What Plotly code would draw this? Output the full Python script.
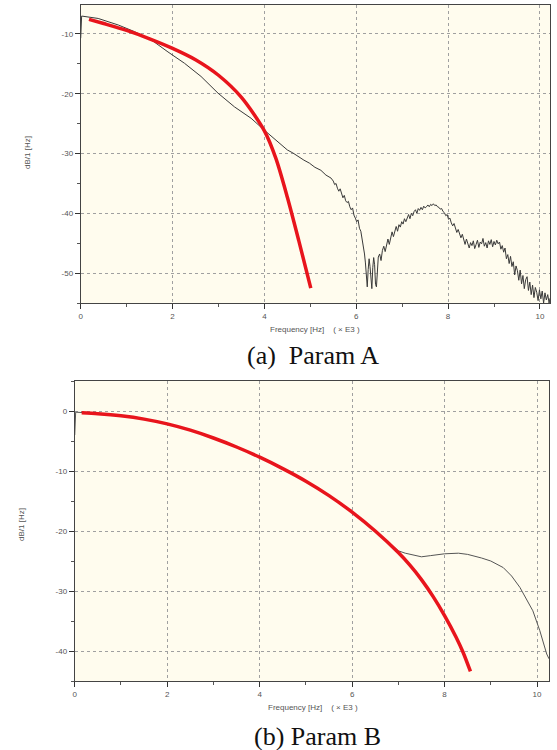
import plotly.graph_objects as go

W, H = 557, 750

# ---------------- Data: panel (a) ----------------
a_meas_f = [0.00, 0.02, 0.38, 0.82, 1.17, 1.54, 1.90, 2.26, 2.62, 2.99, 3.35, 3.71, 4.00, 4.20,
            4.35, 4.50, 4.62, 4.75, 4.86, 4.98, 5.10, 5.23, 5.34, 5.45,
            5.50, 5.53, 5.56, 5.59, 5.62, 5.65, 5.68, 5.71, 5.74, 5.77, 5.80, 5.83, 5.86, 5.89,
            5.92, 5.95, 5.98, 6.01, 6.04, 6.07, 6.10, 6.13, 6.16, 6.18, 6.20, 6.22, 6.24, 6.26,
            6.28, 6.30, 6.32, 6.34, 6.36, 6.38, 6.40, 6.42, 6.44, 6.46, 6.48, 6.51, 6.54, 6.57,
            6.60, 6.63, 6.66, 6.69, 6.72, 6.75, 6.78, 6.81, 6.84, 6.87, 6.90, 6.93, 6.96, 6.99,
            7.02, 7.05, 7.08, 7.11, 7.14, 7.17, 7.20, 7.23, 7.26, 7.29, 7.32, 7.35, 7.38, 7.41,
            7.44, 7.47, 7.50, 7.53, 7.56, 7.59, 7.62, 7.65, 7.68, 7.71, 7.74, 7.77, 7.80, 7.83,
            7.86, 7.89, 7.92, 7.95, 7.98, 8.01, 8.04, 8.07, 8.10, 8.13, 8.16, 8.19, 8.22, 8.25,
            8.28, 8.31, 8.34, 8.37, 8.40, 8.43, 8.46, 8.49, 8.52, 8.55, 8.58, 8.61, 8.64, 8.67,
            8.70, 8.73, 8.76, 8.79, 8.82, 8.85, 8.88, 8.91, 8.94, 8.97, 9.00, 9.03, 9.06, 9.09,
            9.12, 9.15, 9.18, 9.21, 9.24, 9.27, 9.30, 9.33, 9.36, 9.39, 9.42, 9.45, 9.48, 9.51,
            9.54, 9.57, 9.60, 9.63, 9.66, 9.69, 9.72, 9.75, 9.78, 9.81, 9.84, 9.87, 9.90, 9.93,
            9.96, 9.99, 10.02, 10.05, 10.08, 10.11, 10.14, 10.17, 10.20, 10.22]
a_meas_db = [-10.7, -7.0, -7.4, -8.5, -9.6, -11.0, -13.0, -14.9, -17.1, -19.9, -22.2, -24.1, -26.1, -27.4,
             -28.4, -29.4, -29.9, -30.6, -31.1, -31.6, -32.3, -32.8, -33.6, -34.1,
             -34.6, -35.2, -35.0, -35.8, -36.3, -35.9, -36.8, -37.4, -37.0, -37.9, -38.2, -38.0, -38.9, -39.4,
             -39.1, -40.3, -40.8, -41.4, -41.1, -42.5, -43.0, -44.2, -45.6, -46.8, -48.3, -50.5, -52.3, -49.4,
             -47.6, -48.9, -51.8, -52.6, -49.1, -47.4, -48.6, -51.9, -52.3, -49.0, -47.3, -46.8, -47.9, -46.2,
             -45.5, -46.4, -45.1, -44.3, -45.2, -44.0, -43.1, -43.9, -42.8, -42.2, -43.0, -41.9, -42.3, -41.4,
             -41.8, -40.9, -41.4, -40.6, -40.2, -40.9, -40.0, -40.4, -39.7, -39.4, -40.0, -39.2, -39.5, -39.0,
             -39.4, -38.8, -39.1, -38.9, -38.6, -38.9, -38.5, -38.7, -38.4, -38.7, -38.6, -38.9, -39.0, -39.3,
             -39.2, -39.7, -39.9, -40.4, -40.2, -41.0, -40.8, -41.6, -42.1, -41.7, -42.6, -43.2, -42.7, -43.6,
             -44.1, -43.5, -44.6, -45.2, -44.3, -45.0, -45.8, -44.9, -45.4, -44.6, -45.9, -45.2, -44.5, -45.7,
             -44.8, -45.1, -44.2, -45.5, -44.9, -45.8, -44.6, -45.2, -44.4, -45.6, -44.7, -45.3, -44.5, -45.1,
             -44.8, -46.0, -45.4, -46.5, -45.8, -47.6, -46.9, -48.4, -47.2, -48.9, -48.1, -50.3, -48.8, -49.6,
             -51.2, -49.5, -51.8, -50.4, -52.6, -51.1, -50.6, -52.9, -51.5, -53.6, -52.0, -54.1, -52.4, -53.2,
             -54.6, -52.8, -54.3, -53.0, -55.0, -53.3, -54.5, -53.6, -55.0, -54.2]

a_model_f = [0.18, 0.50, 1.00, 1.50, 2.00, 2.50, 3.00, 3.50, 4.00, 4.25, 4.50, 4.75, 5.01]
a_model_db = [-7.55, -8.25, -9.4, -10.8, -12.4, -14.3, -16.9, -20.6, -26.2, -30.8, -37.3, -44.6, -52.5]

# ---------------- Data: panel (b) ----------------
b_meas_f = [0.00, 0.02, 0.50, 1.00, 1.50, 2.00, 2.50, 3.00, 3.50, 4.00, 4.50, 5.00, 5.50, 6.00, 6.50, 6.80,
            7.00, 7.15, 7.30, 7.50, 7.70, 8.00, 8.30, 8.50, 8.80, 9.00, 9.27, 9.45, 9.63, 9.80, 9.91,
            10.06, 10.21, 10.26]
b_meas_db = [-4.0, -0.2, -0.4, -0.75, -1.3, -2.1, -3.15, -4.45, -5.95, -7.65, -9.55, -11.65, -14.05, -16.8, -19.9, -22.0,
             -23.3, -23.7, -24.0, -24.3, -24.1, -23.8, -23.7, -23.9, -24.5, -25.0, -26.1, -27.5, -29.4, -31.7, -33.3,
             -36.6, -40.5, -41.3]

b_model_f = [0.15, 0.50, 1.00, 1.50, 2.00, 2.50, 3.00, 3.50, 4.00, 4.50, 5.00, 5.50, 6.00, 6.50, 7.00,
             7.25, 7.50, 7.75, 8.00, 8.25, 8.40, 8.56]
b_model_db = [-0.3, -0.45, -0.8, -1.35, -2.15, -3.2, -4.5, -6.0, -7.7, -9.6, -11.7, -14.1, -16.85, -20.0, -23.6,
              -25.7, -28.1, -30.9, -34.1, -37.7, -40.2, -43.4]

x_tickvals = [0, 2, 4, 6, 8, 10]
x_ticktext = ["0", "2", "4", "6", "8", "10"]
a_y_tickvals = [-50, -40, -30, -20, -10]
a_y_ticktext = ["-50", "-40", "-30", "-20", "-10"]
b_y_tickvals = [-40, -30, -20, -10, 0]
b_y_ticktext = ["-40", "-30", "-20", "-10", "0"]

y_title = "dB/1 [Hz]"
x_title = "Frequency [Hz]\u00a0\u00a0\u00a0\u00a0( \u00d7 E3 )"
cap_a = "(a)\u00a0\u00a0Param A"
cap_b = "(b) Param B"

# ---------------- Figure ----------------
fig = go.Figure()
fig.add_trace(go.Scatter(x=a_meas_f, y=a_meas_db, mode="lines", line=dict(color="#3a3a3a", width=1),
                         xaxis="x", yaxis="y", showlegend=False))
fig.add_trace(go.Scatter(x=a_model_f, y=a_model_db, mode="lines",
                         line=dict(color="#e8141c", width=3.5, shape="spline", smoothing=0.8),
                         xaxis="x", yaxis="y", showlegend=False))
fig.add_trace(go.Scatter(x=b_meas_f, y=b_meas_db, mode="lines", line=dict(color="#555555", width=1),
                         xaxis="x2", yaxis="y2", showlegend=False))
fig.add_trace(go.Scatter(x=b_model_f, y=b_model_db, mode="lines",
                         line=dict(color="#e8141c", width=3.5, shape="spline", smoothing=0.8),
                         xaxis="x2", yaxis="y2", showlegend=False))

tickfont = dict(family="Liberation Sans, Arial, sans-serif", size=8, color="#555555")

def xaxis(dom, rng, anchor):
    return dict(domain=dom, range=rng, anchor=anchor, tickmode="array", tickvals=x_tickvals,
                ticktext=x_ticktext, ticks="outside", ticklen=5, tickcolor="#333", tickwidth=1,
                minor=dict(ticks="outside", ticklen=3, dtick=1, tick0=0, tickcolor="#555"),
                showline=True, linecolor="#444", linewidth=1, mirror=True,
                showgrid=True, gridcolor="#a0a0a0", griddash="dot", gridwidth=1,
                zeroline=False, tickfont=tickfont, fixedrange=True)

def yaxis(dom, rng, anchor, tv, tt):
    return dict(domain=dom, range=rng, anchor=anchor, tickmode="array", tickvals=tv,
                ticktext=tt, ticks="outside", ticklen=5, tickcolor="#333", tickwidth=1,
                minor=dict(ticks="outside", ticklen=3, dtick=5, tick0=0, tickcolor="#555"),
                showline=True, linecolor="#444", linewidth=1, mirror=True,
                showgrid=True, gridcolor="#a0a0a0", griddash="dot", gridwidth=1,
                zeroline=False, tickfont=tickfont, fixedrange=True)

fig.update_layout(
    width=W, height=H, margin=dict(l=0, r=0, t=0, b=0),
    paper_bgcolor="white", plot_bgcolor="#fffcee",
    xaxis=xaxis([79 / W, 550 / W], [0, 10.22], "y"),
    yaxis=yaxis([1 - 303 / H, 1 - 5 / H], [-55, -5.15], "x", a_y_tickvals, a_y_ticktext),
    xaxis2=xaxis([73 / W, 549 / W], [0, 10.26], "y2"),
    yaxis2=yaxis([1 - 681 / H, 1 - 381 / H], [-45, 5], "x2", b_y_tickvals, b_y_ticktext),
)

small = dict(family="Liberation Sans, Arial, sans-serif", size=8, color="#555555")
serif = dict(family="Liberation Serif, Times New Roman, serif", size=26, color="#111111")
ann = [
    dict(text=y_title, x=25 / W, y=1 - 152 / H, textangle=-90, font=small),
    dict(text=y_title, x=19 / W, y=1 - 524 / H, textangle=-90, font=small),
    dict(text=x_title, x=314 / W, y=1 - 330 / H, font=small),
    dict(text=x_title, x=312 / W, y=1 - 707 / H, font=small),
    dict(text=cap_a, x=312 / W, y=1 - 355 / H, font=serif),
    dict(text=cap_b, x=317 / W, y=1 - 736 / H, font=serif),
]
for a in ann:
    a.update(xref="paper", yref="paper", showarrow=False, xanchor="center", yanchor="middle")
fig.update_layout(annotations=ann)

fig.write_html("out.html")
